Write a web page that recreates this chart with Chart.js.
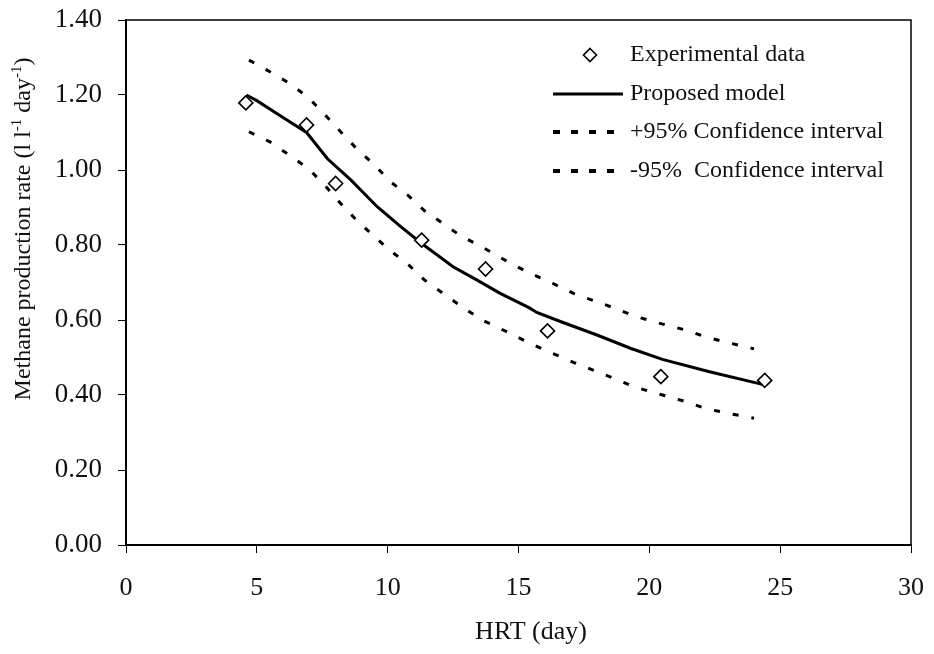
<!DOCTYPE html>
<html lang="en">
<head>
    <meta charset="UTF-8">
    <title>Methane production rate vs HRT</title>
    <script src="https://cdn.jsdelivr.net/npm/chart.js"></script>
    <style>
        html, body {
            margin: 0;
            padding: 0;
            background: #fff;
        }
        #wrap {
            width: 934px;
            height: 654px;
        }
    </style>
</head>
<body>
    <div id="wrap"><canvas id="chart" width="934" height="654"></canvas></div>

    <script>
        // Experimental data (diamonds)
        const hrtExp = [4.58, 6.90, 8.01, 11.30, 13.74, 16.11, 20.44, 24.41];
        const rateExp = [1.179, 1.12, 0.964, 0.813, 0.736, 0.571, 0.449, 0.439];

        // Proposed model (solid line)
        const hrtModel = [4.6, 5.0, 6.0, 6.9, 7.7, 8.6, 9.6, 10.5, 11.3, 12.5, 13.4, 14.3, 15.4, 15.7, 16.6, 18.0, 19.3, 20.5, 22.3, 24.4];
        const rateModel = [1.20, 1.185, 1.14, 1.10, 1.03, 0.973, 0.902, 0.849, 0.804, 0.742, 0.707, 0.671, 0.633, 0.62, 0.596, 0.56, 0.524, 0.495, 0.462, 0.427];

        // +95% / -95% confidence interval (dashed lines)
        const hrtCI = [4.7, 5.5, 6.3, 7.0, 7.7, 8.2, 8.8, 9.5, 10.1, 10.8, 11.4, 12.1, 12.8, 13.6, 14.7, 15.4, 16.3, 17.1, 17.9, 18.7, 19.4, 20.4, 21.4, 22.2, 23.1, 24.0];
        const rateUpper = [1.293, 1.262, 1.229, 1.191, 1.14, 1.102, 1.058, 1.013, 0.969, 0.931, 0.892, 0.858, 0.824, 0.795, 0.751, 0.726, 0.698, 0.671, 0.651, 0.631, 0.611, 0.591, 0.573, 0.554, 0.538, 0.523];
        const rateLower = [1.102, 1.075, 1.037, 1.002, 0.951, 0.911, 0.867, 0.822, 0.785, 0.747, 0.707, 0.672, 0.637, 0.60, 0.564, 0.539, 0.511, 0.487, 0.465, 0.443, 0.422, 0.402, 0.382, 0.363, 0.35, 0.338];

        // Axes
        const xTicks = [0, 5, 10, 15, 20, 25, 30];
        const yTicks = [0, 0.2, 0.4, 0.6, 0.8, 1.0, 1.2, 1.4];

        const serif = '"Liberation Serif", "Times New Roman", serif';

        function pairs(xs, ys) {
            return xs.map((x, i) => ({ x: x, y: ys[i] }));
        }

        // frame around the plot, axis titles and the legend inside the plot
        const decorations = {
            id: 'decorations',
            afterDraw(chart) {
                const ctx = chart.ctx;
                const a = chart.chartArea;
                ctx.save();

                // box
                ctx.strokeStyle = '#000';
                ctx.lineWidth = 1.5;
                ctx.strokeRect(a.left, a.top, a.right - a.left, a.bottom - a.top);

                // x title
                ctx.fillStyle = '#111';
                ctx.font = '26px ' + serif;
                ctx.textAlign = 'center';
                ctx.textBaseline = 'middle';
                ctx.fillText('HRT (day)', 531, 632);

                // y title with superscripts
                const parts = [
                    ['Methane production rate (l l', false],
                    ['-1', true],
                    [' day', false],
                    ['-1', true],
                    [')', false]
                ];
                const big = '24px ' + serif, small = '15px ' + serif;
                let total = 0;
                parts.forEach(p => { ctx.font = p[1] ? small : big; total += ctx.measureText(p[0]).width; });
                ctx.translate(22, 229);
                ctx.rotate(-Math.PI / 2);
                ctx.textAlign = 'left';
                ctx.textBaseline = 'alphabetic';
                let px = -total / 2;
                parts.forEach(p => {
                    ctx.font = p[1] ? small : big;
                    ctx.fillText(p[0], px, p[1] ? -1 : 8);
                    px += ctx.measureText(p[0]).width;
                });
                ctx.setTransform(1, 0, 0, 1, 0, 0);

                // legend
                const sx0 = 553, sx1 = 623, tx = 630;
                const rows = [55, 94, 132, 171];
                const ds = chart.data.datasets;
                ctx.font = '24px ' + serif;
                ctx.textBaseline = 'middle';
                ctx.textAlign = 'left';
                ctx.fillStyle = '#111';
                ds.forEach((d, i) => {
                    const y = rows[i];
                    ctx.strokeStyle = '#000';
                    if (d.showLine === false) {
                        ctx.lineWidth = 1.6;
                        ctx.setLineDash([]);
                        ctx.fillStyle = '#fff';
                        ctx.beginPath();
                        ctx.moveTo(590, y - 6.5);
                        ctx.lineTo(596.5, y);
                        ctx.lineTo(590, y + 6.5);
                        ctx.lineTo(583.5, y);
                        ctx.closePath();
                        ctx.fill();
                        ctx.stroke();
                        ctx.fillStyle = '#111';
                    } else {
                        ctx.lineWidth = d.borderDash ? 4 : 3;
                        ctx.setLineDash(d.borderDash ? [7, 11] : []);
                        ctx.beginPath();
                        ctx.moveTo(sx0, y);
                        ctx.lineTo(sx1, y);
                        ctx.stroke();
                        ctx.setLineDash([]);
                    }
                    ctx.fillText(d.label, tx, y);
                });
                ctx.restore();
            }
        };

        const ctx = document.getElementById('chart').getContext('2d');
        new Chart(ctx, {
            type: 'scatter',
            data: {
                datasets: [
                    {
                        label: 'Experimental data',
                        data: pairs(hrtExp, rateExp),
                        showLine: false,
                        pointStyle: 'rectRot',
                        pointRadius: 7,
                        pointBorderWidth: 1.6,
                        pointBackgroundColor: '#fff',
                        pointBorderColor: '#000',
                        order: 0
                    },
                    {
                        label: 'Proposed model',
                        data: pairs(hrtModel, rateModel),
                        showLine: true,
                        borderColor: '#000',
                        borderWidth: 3,
                        pointRadius: 0,
                        tension: 0,
                        order: 1
                    },
                    {
                        label: '+95% Confidence interval',
                        data: pairs(hrtCI, rateUpper),
                        showLine: true,
                        borderColor: '#000',
                        borderWidth: 3,
                        borderDash: [6, 13],
                        pointRadius: 0,
                        order: 2
                    },
                    {
                        label: '-95%  Confidence interval',
                        data: pairs(hrtCI, rateLower),
                        showLine: true,
                        borderColor: '#000',
                        borderWidth: 3,
                        borderDash: [6, 13],
                        pointRadius: 0,
                        order: 3
                    }
                ]
            },
            options: {
                responsive: false,
                animation: false,
                layout: { padding: { top: 20, right: 23, left: 0, bottom: 0 } },
                plugins: {
                    legend: { display: false },
                    tooltip: { enabled: false }
                },
                scales: {
                    x: {
                        type: 'linear',
                        min: 0,
                        max: 30,
                        afterFit: s => { s.height = 109; s.paddingLeft = 0; s.paddingRight = 0; },
                        afterBuildTicks: s => { s.ticks = xTicks.map(v => ({ value: v })); },
                        ticks: {
                            color: '#111',
                            padding: 20,
                            maxRotation: 0,
                            font: { family: serif, size: 26 },
                            callback: v => String(v)
                        },
                        grid: { drawOnChartArea: false, color: '#000', tickLength: 8, lineWidth: 1 },
                        border: { color: '#000', width: 2 }
                    },
                    y: {
                        type: 'linear',
                        min: 0,
                        max: 1.4,
                        afterFit: s => { s.width = 126; s.paddingTop = 0; s.paddingBottom = 0; },
                        afterBuildTicks: s => { s.ticks = yTicks.map(v => ({ value: v })); },
                        ticks: {
                            color: '#111',
                            padding: 16,
                            font: { family: serif, size: 27 },
                            callback: v => Number(v).toFixed(2)
                        },
                        grid: { drawOnChartArea: false, color: '#000', tickLength: 8, lineWidth: 1 },
                        border: { color: '#000', width: 2 }
                    }
                }
            },
            plugins: [decorations]
        });
    </script>
</body>
</html>
